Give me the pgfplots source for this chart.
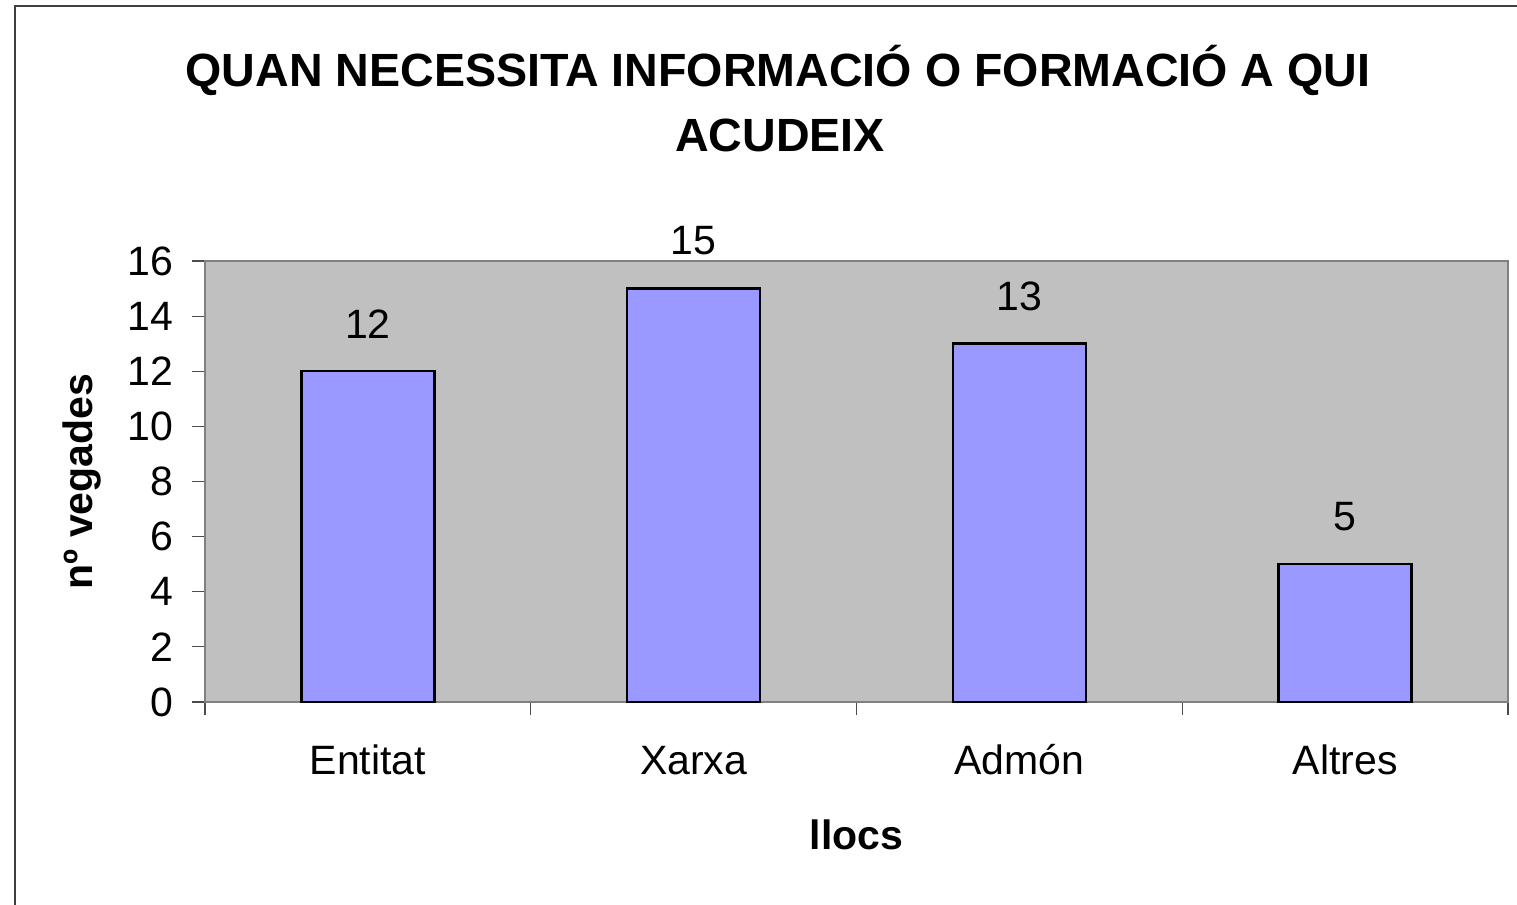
\documentclass[border=0pt]{standalone}
\usepackage{fontspec}
\setmainfont{Liberation Sans}
\usepackage{pgfplots}
\pgfplotsset{compat=1.18}
\definecolor{barfill}{HTML}{9999FF}
\definecolor{plotbg}{HTML}{C0C0C0}
\definecolor{axgray}{HTML}{808080}
\begin{document}
\begin{tikzpicture}
\path[use as bounding box] (0,0) rectangle (758.5pt,452.5pt);
\draw[black!75, line width=1pt] (7.25pt,0) -- (7.25pt,449.5pt) -- (758.5pt,449.5pt);
\node[font=\fontsize{23.3}{27}\selectfont\bfseries] at (389pt,417.5pt) {QUAN NECESSITA INFORMACIÓ O FORMACIÓ A QUI};
\node[font=\fontsize{23.3}{27}\selectfont\bfseries] at (390pt,385pt) {ACUDEIX};
\begin{axis}[
  at={(102.5pt,101.5pt)}, anchor=south west,
  scale only axis, width=651.5pt, height=220.5pt,
  xmin=-0.5, xmax=3.5, ymin=0, ymax=16,
  clip=false,
  ybar, bar width=66.5pt,
  axis background/.style={fill=plotbg},
  axis line style={axgray, line width=1pt},
  xtick={0,1,2,3}, xticklabels={Entitat,Xarxa,Admón,Altres},
  major x tick style={draw=none},
  minor xtick={-0.5,0.5,1.5,2.5,3.5},
  ytick={0,2,...,16},
  xtick pos=bottom, ytick pos=left,
  tick align=outside,
  tick style={black!70, line width=0.6pt},
  major tick length=6.5pt, minor tick length=6.5pt,
  tick label style={font=\fontsize{20.5}{24}\selectfont},
  /pgf/number format/assume math mode=true,
  xticklabel style={anchor=base, inner sep=0pt, yshift=-30pt},
  yticklabel style={anchor=east, inner sep=0pt, xshift=-9pt},
  xlabel={llocs}, ylabel={nº vegades},
  label style={font=\fontsize{20.5}{24}\selectfont\bfseries},
  xlabel style={at={(axis description cs:0.5,0)}, anchor=center, yshift=-66.5pt},
  ylabel style={at={(axis description cs:0,0.5)}, anchor=center, yshift=61.5pt},
  nodes near coords,
  every node near coord/.append style={font=\fontsize{20.5}{24}\selectfont, anchor=south, inner sep=0pt, yshift=16pt},
]
\addplot[draw=black, line width=1.2pt, fill=barfill] coordinates {(0,12) (1,15) (2,13) (3,5)};
\end{axis}
\end{tikzpicture}
\end{document}
